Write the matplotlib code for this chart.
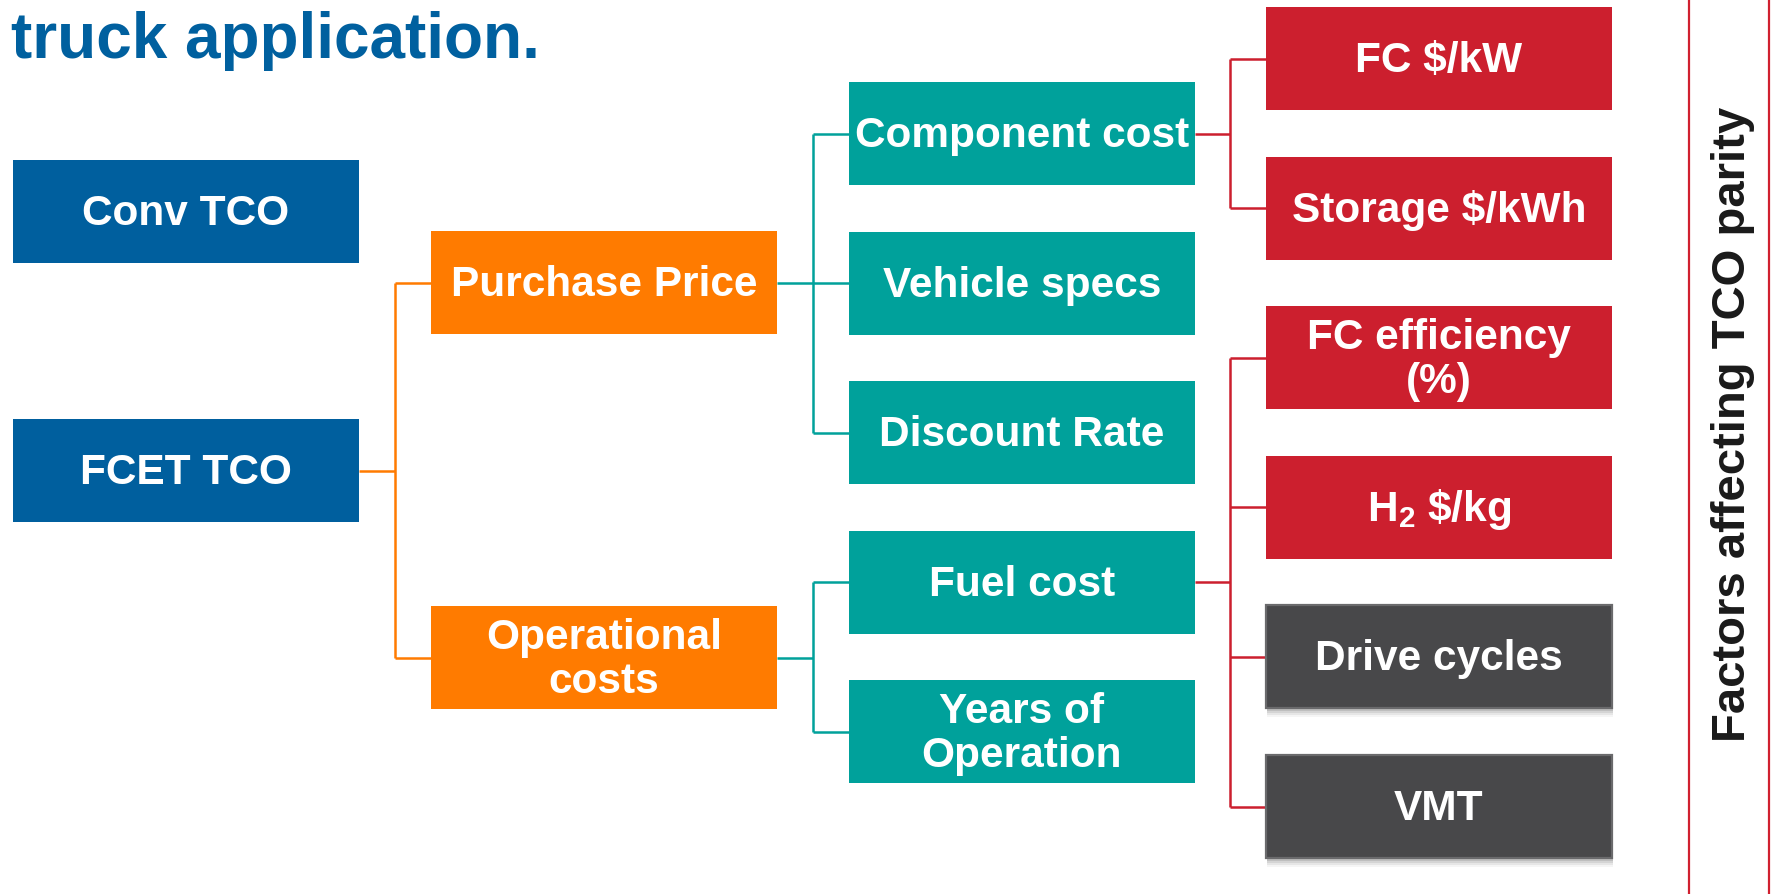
import matplotlib
matplotlib.use("Agg")
import matplotlib.pyplot as plt
from matplotlib.patches import Rectangle

plt.rcParams['font.family'] = ['Liberation Sans', 'DejaVu Sans']
plt.rcParams['mathtext.fontset'] = 'custom'
plt.rcParams['mathtext.rm'] = 'Liberation Sans:bold'
plt.rcParams['mathtext.it'] = 'Liberation Sans:bold'
plt.rcParams['mathtext.bf'] = 'Liberation Sans:bold'
plt.rcParams['mathtext.sf'] = 'Liberation Sans:bold'
plt.rcParams['mathtext.default'] = 'rm'

# ---- data ----
title_text = "truck application."
side_label = "Factors affecting TCO parity"
level1 = ["Conv TCO", "FCET TCO"]
level2 = ["Purchase Price", "Operational\ncosts"]
level3 = ["Component cost", "Vehicle specs", "Discount Rate", "Fuel cost", "Years of\nOperation"]
level4 = ["FC $/kW", "Storage $/kWh", "FC efficiency\n(%)", r"H$_2$ \$/kg", "Drive cycles", "VMT"]
level4_kind = ["cost", "cost", "cost", "cost", "other", "other"]
# tree links: (parent index, [child indices])
links_1_2 = [(1, [0, 1])]
links_2_3 = [(0, [0, 1, 2]), (1, [3, 4])]
links_3_4 = [(0, [0, 1]), (3, [2, 3, 4, 5])]

# ---- styles / layout ----
BLUE = "#005F9E"
ORANGE = "#FF7B00"
TEAL = "#00A19B"
RED = "#CC1F2E"
GREY = "#48484A"
TITLE_BLUE = "#00609F"

W, H = 1771, 894
fig = plt.figure(figsize=(W / 100, H / 100), dpi=100)
ax = fig.add_axes([0, 0, 1, 1])
ax.set_xlim(0, W)
ax.set_ylim(H, 0)
ax.axis("off")

BOX_W = 346
BOX_H = 103
col_x = [13, 431, 849, 1266]
pitch = 149.6
row_y1 = [160, 419]
row_y2 = [231, 606]
row_y3 = [82 + i * pitch for i in range(5)]
row_y4 = [7 + i * pitch for i in range(6)]

FS = 30.5
LINE_PITCH = 44


def draw_label(xc, yc, label, color="white", fs=FS):
    lines = label.split("\n")
    n = len(lines)
    for i, ln in enumerate(lines):
        ycen = yc + (i - (n - 1) / 2) * LINE_PITCH
        ax.text(xc, ycen + 13.5, ln, ha="center", va="baseline", color=color,
                fontsize=fs, fontweight="bold", zorder=5)


def draw_box(x, y, label, fc, shadow=False):
    if shadow:
        for k, a in enumerate([0.10, 0.08, 0.06, 0.04]):
            ax.add_patch(Rectangle((x + 1, y + 3 + k * 2), BOX_W, BOX_H, fc="black",
                                   ec="none", alpha=a, zorder=2))
        ax.add_patch(Rectangle((x, y), BOX_W, BOX_H, fc=fc, ec="#6a6a6c", lw=1.6, zorder=3))
    else:
        ax.add_patch(Rectangle((x, y), BOX_W, BOX_H, fc=fc, ec="none", zorder=3))
    draw_label(x + BOX_W / 2, y + BOX_H / 2, label)


for lab, y in zip(level1, row_y1):
    draw_box(col_x[0], y, lab, BLUE)
for lab, y in zip(level2, row_y2):
    draw_box(col_x[1], y, lab, ORANGE)
for lab, y in zip(level3, row_y3):
    draw_box(col_x[2], y, lab, TEAL)
for lab, y, kind in zip(level4, row_y4, level4_kind):
    if kind == "cost":
        draw_box(col_x[3], y, lab, RED)
    else:
        draw_box(col_x[3], y, lab, GREY, shadow=True)


def connect(parent_x_right, parent_y, child_x_left, child_ys, color):
    xm = (parent_x_right + child_x_left) / 2
    lw = 1.8
    ax.plot([parent_x_right, xm], [parent_y, parent_y], color=color, lw=lw, zorder=1,
            solid_capstyle="butt")
    ys = list(child_ys) + [parent_y]
    ax.plot([xm, xm], [min(ys), max(ys)], color=color, lw=lw, zorder=1, solid_capstyle="butt")
    for cy in child_ys:
        ax.plot([xm, child_x_left], [cy, cy], color=color, lw=lw, zorder=1,
                solid_capstyle="butt")


for p, ch in links_1_2:
    connect(col_x[0] + BOX_W, row_y1[p] + BOX_H / 2, col_x[1],
            [row_y2[c] + BOX_H / 2 for c in ch], ORANGE)
for p, ch in links_2_3:
    connect(col_x[1] + BOX_W, row_y2[p] + BOX_H / 2, col_x[2],
            [row_y3[c] + BOX_H / 2 for c in ch], TEAL)
for p, ch in links_3_4:
    connect(col_x[2] + BOX_W, row_y3[p] + BOX_H / 2, col_x[3],
            [row_y4[c] + BOX_H / 2 for c in ch], RED)

# Title (partially visible)
ax.text(11, 58, title_text, ha="left", va="baseline", color=TITLE_BLUE,
        fontsize=46, fontweight="bold")

# Side panel with red outline
ax.add_patch(Rectangle((1689, -20), 80, H + 40, fc="none", ec="#D0202F", lw=1.6, zorder=1))
ax.text(1733, 424, side_label, rotation=90, ha="center", va="center", color="#1a1a1a",
        fontsize=34, fontweight="bold")

fig.savefig("out.png", dpi=100)
